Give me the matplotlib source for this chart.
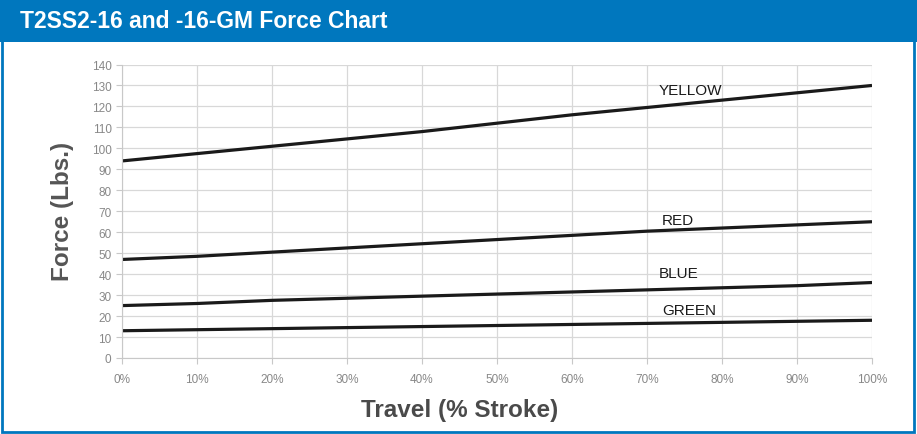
import matplotlib
matplotlib.use("Agg")
import matplotlib.pyplot as plt
from matplotlib.patches import Rectangle

travel = [0, 10, 20, 30, 40, 50, 60, 70, 80, 90, 100]
yellow = [94, 97.5, 101, 104.5, 108, 112, 116, 119.5, 123, 126.5, 130]
red = [47, 48.5, 50.5, 52.5, 54.5, 56.5, 58.5, 60.5, 62, 63.5, 65]
blue = [25, 26, 27.5, 28.5, 29.5, 30.5, 31.5, 32.5, 33.5, 34.5, 36]
green = [13, 13.5, 14, 14.5, 15, 15.5, 16, 16.5, 17, 17.5, 18]
series_names = ["YELLOW", "RED", "BLUE", "GREEN"]
label_pos = [(71.5, 128), (72, 66), (71.5, 40.5), (72, 23)]
x_ticks = [0, 10, 20, 30, 40, 50, 60, 70, 80, 90, 100]
x_tick_labels = [f"{v}%" for v in x_ticks]
y_ticks = list(range(0, 141, 10))
title = "T2SS2-16 and -16-GM Force Chart"

BLUE_HDR = "#0077be"
narrow = ["Liberation Sans Narrow", "Liberation Sans", "DejaVu Sans"]
sans = ["Liberation Sans", "DejaVu Sans"]

fig = plt.figure(figsize=(9.17, 4.35), dpi=100)
fig.patch.set_facecolor("white")

# border and header
fig.add_artist(Rectangle((0.002, 0.004), 0.995, 0.992, transform=fig.transFigure,
                         facecolor="white", edgecolor=BLUE_HDR, linewidth=2, zorder=-10))
fig.add_artist(Rectangle((0, 1 - 43 / 435), 1, 43 / 435, transform=fig.transFigure,
                         facecolor=BLUE_HDR, edgecolor="none", zorder=-9))
fig.text(20 / 917, 1 - 22 / 435, title, color="white", fontsize=16.5, fontweight="bold",
         family=narrow, va="center", ha="left")

ax = fig.add_axes([122 / 917, 1 - 359 / 435, 750 / 917, 293.5 / 435])
ax.set_facecolor("none")
for name, vals in zip(series_names, [yellow, red, blue, green]):
    ax.plot(travel, vals, color="#1a1a1a", linewidth=2.3, solid_capstyle="butt")
for name, (lx, ly) in zip(series_names, label_pos):
    ax.text(lx, ly, name, fontsize=11, family=sans, color="#1a1a1a", ha="left", va="center")

ax.set_xlim(0, 100)
ax.set_ylim(0, 140)
ax.set_xticks(x_ticks)
ax.set_xticklabels(x_tick_labels)
ax.set_yticks(y_ticks)
ax.grid(True, color="#d8d8d8", linewidth=0.9)
ax.set_axisbelow(True)
for s in ["top", "right"]:
    ax.spines[s].set_visible(False)
for s in ["left", "bottom"]:
    ax.spines[s].set_color("#c8c8c8")
ax.tick_params(axis="both", colors="#c8c8c8", labelcolor="#888888", labelsize=8.5,
               length=4, width=0.8)
for lab in ax.get_xticklabels() + ax.get_yticklabels():
    lab.set_family(narrow)
ax.tick_params(axis="x", pad=7)

ax.set_xlabel("Travel (% Stroke)", fontsize=17.5, fontweight="bold", color="#4a4a4a",
              family=sans, va="center", ha="center")
ax.xaxis.set_label_coords((460 - 122) / 750, (359 - 411) / 293.5)
ax.set_ylabel("Force (Lbs.)", fontsize=17.5, fontweight="bold", color="#555555",
              family=sans, va="center", ha="center")
ax.yaxis.set_label_coords((62 - 122) / 750, (359 - 211) / 293.5)

fig.savefig("out.png", dpi=100)
